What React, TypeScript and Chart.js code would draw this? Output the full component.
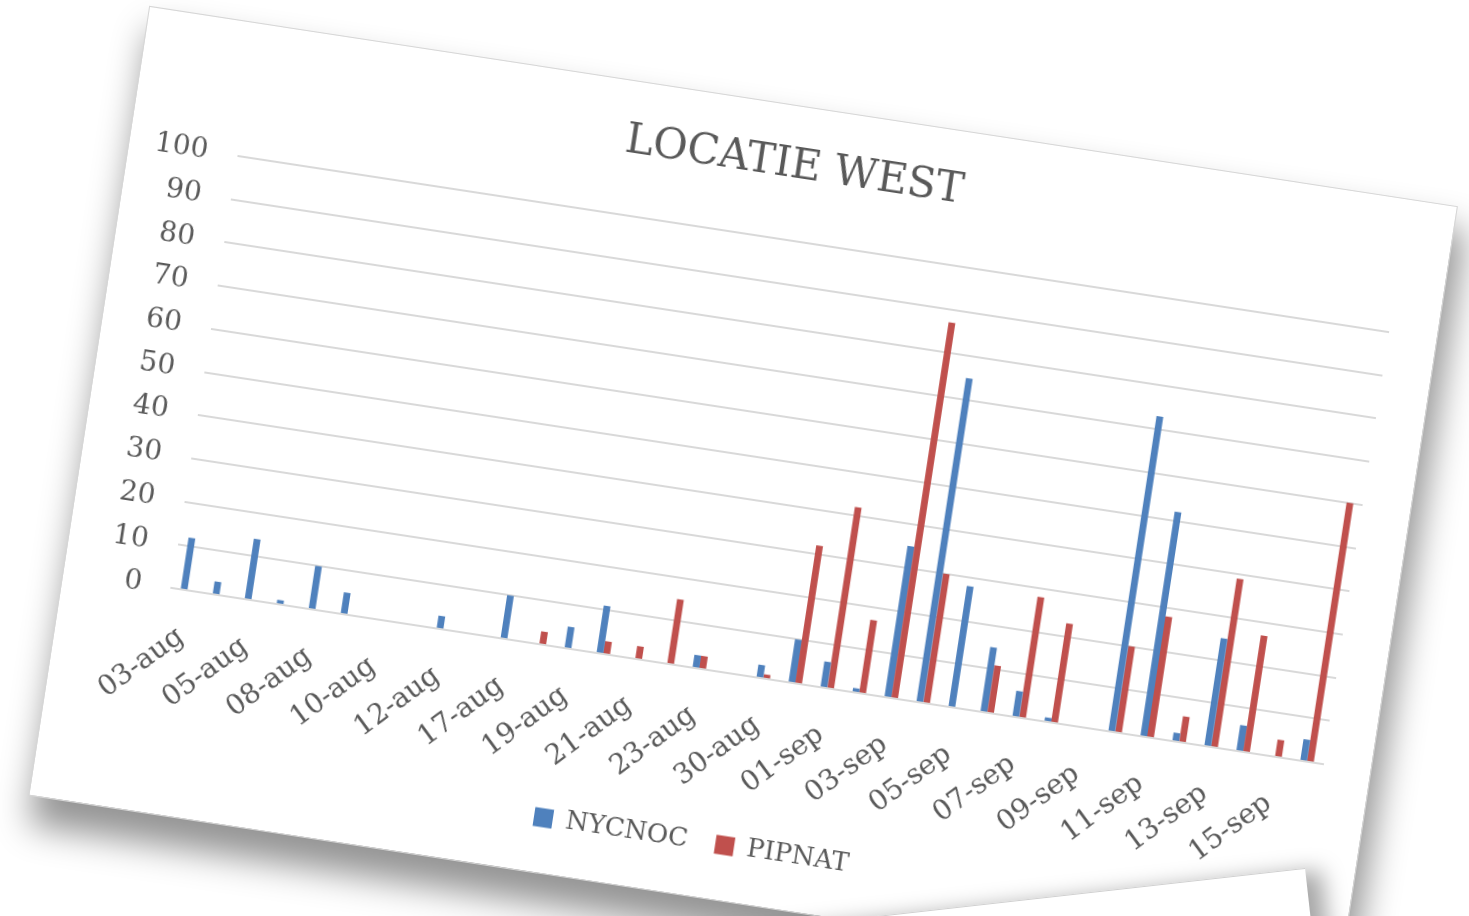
import React, { useEffect, useRef } from 'react';
import { Chart, registerables } from 'chart.js';

Chart.register(...registerables);

const categories = [
  '03-aug', '04-aug', '05-aug', '07-aug', '08-aug', '09-aug', '10-aug', '11-aug', '12-aug', '16-aug',
  '17-aug', '18-aug', '19-aug', '20-aug', '21-aug', '22-aug', '23-aug', '24-aug', '30-aug', '31-aug',
  '01-sep', '02-sep', '03-sep', '04-sep', '05-sep', '06-sep', '07-sep', '08-sep', '09-sep', '10-sep',
  '11-sep', '12-sep', '13-sep', '14-sep', '15-sep', '16-sep',
];

const nycnoc = [
  12, 3, 14, 1, 10, 5, 0, 0, 3, 0,
  10, 0, 5, 11, 0, 0, 3, 0, 3, 10,
  6, 1, 35, 75, 28, 15, 6, 1, 0, 73,
  52, 2, 25, 6, 0, 5,
];

const pipnat = [
  0, 0, 0, 0, 0, 0, 0, 0, 0, 0,
  0, 3, 0, 3, 3, 15, 3, 0, 1, 32,
  42, 17, 87, 30, 0, 11, 28, 23, 0, 20,
  28, 6, 39, 27, 4, 60,
];

const seriesNames = ['NYCNOC', 'PIPNAT'];
const titleText = 'LOCATIE WEST';

const FONT = "'DejaVu Serif', serif";
const TEXT = '#595959';
const GRID = '#d9d9d9';
const SHEET_W = 1322;
const SHEET_H = 797;

export default function App() {
  const ref = useRef<HTMLCanvasElement>(null);

  useEffect(() => {
    if (!ref.current) return;
    const chart = new Chart(ref.current, {
      type: 'bar',
      data: {
        labels: categories,
        datasets: [
          {
            label: seriesNames[0],
            data: nycnoc,
            backgroundColor: '#4F81BD',
            categoryPercentage: 0.42,
            barPercentage: 1,
          },
          {
            label: seriesNames[1],
            data: pipnat,
            backgroundColor: '#C0504D',
            categoryPercentage: 0.42,
            barPercentage: 1,
          },
        ],
      },
      options: {
        responsive: false,
        maintainAspectRatio: false,
        animation: false,
        layout: { padding: { left: 0, right: 0, top: 0, bottom: 32 } },
        plugins: {
          title: {
            display: true,
            text: titleText,
            color: TEXT,
            font: { family: FONT, size: 42, weight: 'normal' },
            padding: { top: 35, bottom: 48.6 },
          },
          legend: {
            position: 'bottom',
            labels: {
              color: TEXT,
              font: { family: FONT, size: 26 },
              boxWidth: 19,
              boxHeight: 19,
              padding: 28,
            },
          },
          tooltip: { enabled: false },
        },
        scales: {
          x: {
            grid: { display: false, drawTicks: false },
            border: { display: true, color: GRID, width: 2 },
            ticks: {
              autoSkip: false,
              minRotation: 45,
              maxRotation: 45,
              padding: 32,
              color: TEXT,
              font: { family: FONT, size: 28 },
              callback: (_v: any, i: number) => (i % 2 === 0 ? categories[i] : ''),
            },
            afterFit: (s: any) => {
              s.height = 130;
            },
          },
          y: {
            min: 0,
            max: 100,
            ticks: {
              stepSize: 10,
              padding: 30,
              color: TEXT,
              font: { family: FONT, size: 28 },
            },
            grid: { color: GRID, lineWidth: 2, drawTicks: false },
            border: { display: false },
            afterFit: (s: any) => {
              s.width = 109;
            },
          },
          yRight: {
            position: 'right',
            min: 0,
            max: 100,
            ticks: { display: false },
            grid: { display: false, drawTicks: false },
            border: { display: false },
            afterFit: (s: any) => {
              s.width = 48;
            },
          },
        },
      },
    });
    return () => chart.destroy();
  }, []);

  return (
    <div style={{ position: 'fixed', inset: 0, background: '#ffffff', overflow: 'hidden' }}>
      <div
        style={{
          position: 'absolute',
          left: 150,
          top: 7,
          width: SHEET_W,
          height: SHEET_H,
          transformOrigin: '0 0',
          transform: 'rotate(8.7deg)',
          background: '#ffffff',
          outline: '1px solid #d6d6d6',
          boxShadow: '8px 26px 34px 4px rgba(0,0,0,0.42)',
        }}
      >
        <canvas ref={ref} width={SHEET_W} height={SHEET_H} style={{ display: 'block' }} />
      </div>
      <div
        style={{
          position: 'absolute',
          left: 1305 - 700,
          top: 868,
          width: 700,
          height: 300,
          transformOrigin: '100% 0',
          transform: 'rotate(-6.4deg)',
          background: '#ffffff',
          borderTop: '1px solid #d0d0d0',
          boxShadow: '16px 4px 22px rgba(0,0,0,0.35)',
        }}
      />
    </div>
  );
}
